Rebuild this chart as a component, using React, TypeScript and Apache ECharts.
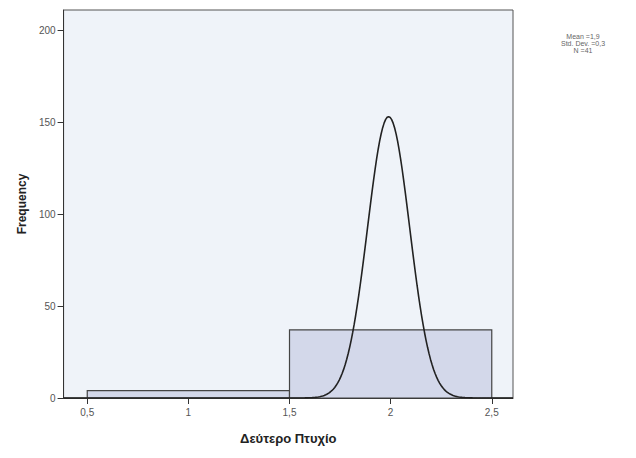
import React, { useEffect, useRef } from "react";
import * as echarts from "echarts";

// Histogram bins: [start, end, frequency]
const binStarts = [0.5, 1.5];
const binEnds = [1.5, 2.5];
const frequencies = [4, 37];

// Normal curve as drawn
const curveCenter = 1.99;
const curveSigma = 0.104;
const curvePeak = 153;

const xTicks = [0.5, 1, 1.5, 2, 2.5];
const yTicks = [0, 50, 100, 150, 200];
const statsLines = ["Mean =1,9", "Std. Dev. =0,3", "N =41"];

const xMin = 0.383;
const xMax = 2.605;
const yMax = 211;

export default function App() {
  const ref = useRef<HTMLDivElement>(null);
  useEffect(() => {
    if (!ref.current) return;
    const chart = echarts.init(ref.current, null, { renderer: "svg" });
    const curve: number[][] = [];
    const steps = 300;
    for (let i = 0; i <= steps; i++) {
      const x = xMin + ((xMax - xMin) * i) / steps;
      const y = curvePeak * Math.exp(-((x - curveCenter) ** 2) / (2 * curveSigma * curveSigma));
      curve.push([x, y]);
    }
    const bins = binStarts.map((s, i) => [s, binEnds[i], frequencies[i]]);
    chart.setOption({
      animation: false,
      backgroundColor: "#ffffff",
      grid: {
        left: 50.5,
        right: 115,
        top: 2,
        bottom: 52,
        show: true,
        backgroundColor: "#eff3f9",
        borderColor: "#555",
        borderWidth: 1,
      },
      xAxis: {
        type: "value",
        min: xMin,
        max: xMax,
        name: "Δεύτερο Πτυχίο",
        nameLocation: "middle",
        nameGap: 34,
        nameTextStyle: { fontFamily: "Liberation Sans, Arial", fontWeight: "bold", fontSize: 13, color: "#222" },
        axisLine: { show: true, lineStyle: { color: "#333", width: 1 } },
        axisTick: { show: true, length: 6, lineStyle: { color: "#333" }, customValues: xTicks },
        axisLabel: {
          customValues: xTicks,
          formatter: (v: number) => String(v).replace(".", ","),
          color: "#555",
          fontSize: 10,
          fontFamily: "Liberation Sans, Arial",
          margin: 9,
        },
        splitLine: { show: false },
      },
      yAxis: {
        type: "value",
        min: 0,
        max: yMax,
        name: "Frequency",
        nameLocation: "middle",
        nameGap: 34,
        nameTextStyle: { fontFamily: "Liberation Sans, Arial", fontWeight: "bold", fontSize: 12, color: "#222" },
        axisLine: { show: true, lineStyle: { color: "#333", width: 1 } },
        axisTick: { show: true, length: 6, lineStyle: { color: "#333" }, customValues: yTicks },
        axisLabel: {
          customValues: yTicks,
          color: "#555",
          fontSize: 10,
          fontFamily: "Liberation Sans, Arial",
          margin: 8,
        },
        splitLine: { show: false },
      },
      graphic: statsLines.map((t, i) => ({
        type: "text",
        x: 575,
        y: 25 + i * 7,
        style: {
          text: t,
          fontSize: 7,
          fontFamily: "Liberation Sans, Arial",
          fill: "#666",
          align: "center",
          textAlign: "center",
          verticalAlign: "top",
        },
      })),
      series: [
        {
          type: "custom",
          data: bins,
          renderItem: (params: any, api: any) => {
            const p0 = api.coord([api.value(0), api.value(2)]);
            const p1 = api.coord([api.value(1), 0]);
            return {
              type: "rect",
              shape: { x: p0[0], y: p0[1], width: p1[0] - p0[0], height: p1[1] - p0[1] },
              style: { fill: "#d3d8ea", stroke: "#444", lineWidth: 1.2 },
            };
          },
          encode: { x: [0, 1], y: 2 },
          z: 2,
        },
        {
          type: "line",
          data: curve,
          showSymbol: false,
          smooth: false,
          lineStyle: { color: "#222", width: 1.6 },
          z: 3,
        },
      ],
    });
    return () => chart.dispose();
  }, []);
  return <div ref={ref} style={{ width: 620, height: 442 }} />;
}
